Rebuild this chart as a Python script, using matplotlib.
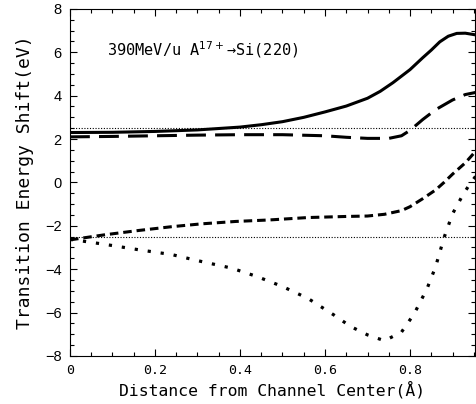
import matplotlib
matplotlib.use("Agg")
import matplotlib.pyplot as plt
from matplotlib.ticker import MultipleLocator

# solid curve
x_solid = [0, 0.1, 0.2, 0.3, 0.4, 0.45, 0.5, 0.55, 0.6, 0.65, 0.7, 0.73, 0.76, 0.8, 0.83, 0.85, 0.87, 0.89, 0.91, 0.93, 0.955]
y_solid = [2.3, 2.31, 2.35, 2.42, 2.55, 2.66, 2.8, 3.0, 3.25, 3.52, 3.88, 4.2, 4.6, 5.2, 5.75, 6.1, 6.48, 6.74, 6.87, 6.88, 6.8]

# long dashes (upper)
x_long = [0, 0.1, 0.2, 0.3, 0.4, 0.5, 0.6, 0.65, 0.7, 0.75, 0.78, 0.8, 0.83, 0.86, 0.9, 0.93, 0.955]
y_long = [2.1, 2.12, 2.15, 2.18, 2.2, 2.2, 2.15, 2.08, 2.03, 2.03, 2.15, 2.4, 2.9, 3.35, 3.8, 4.05, 4.15]

# short dashes (lower)
x_short = [0, 0.08, 0.16, 0.24, 0.31, 0.39, 0.47, 0.56, 0.65, 0.7, 0.74, 0.78, 0.8, 0.83, 0.86, 0.88, 0.9, 0.93, 0.955]
y_short = [-2.65, -2.42, -2.22, -2.04, -1.91, -1.8, -1.73, -1.62, -1.57, -1.55, -1.47, -1.3, -1.12, -0.75, -0.35, 0.0, 0.38, 0.9, 1.45]

# dotted curve
x_dot = [0, 0.08, 0.16, 0.24, 0.31, 0.38, 0.44, 0.5, 0.56, 0.62, 0.66, 0.7, 0.74, 0.78, 0.81, 0.84, 0.86, 0.88, 0.9, 0.925, 0.94, 0.955]
y_dot = [-2.62, -2.85, -3.1, -3.33, -3.65, -3.95, -4.34, -4.8, -5.35, -6.1, -6.64, -7.03, -7.3, -6.9, -6.05, -4.9, -3.9, -2.55, -1.45, -0.55, -0.1, 0.3]

ref_levels = [2.5, -2.5]

fig = plt.figure(figsize=(4.76, 4.04), dpi=100)
ax = fig.add_axes([0.147, 0.119, 0.851, 0.859])

for lv in ref_levels:
    ax.axhline(lv, color="black", lw=0.8, linestyle=(0, (1, 1.5)))

ax.plot(x_solid, y_solid, color="black", lw=2.2, solid_capstyle="butt")
ax.plot(x_long, y_long, color="black", lw=2.2, dashes=(6.5, 3))
ax.plot(x_short, y_short, color="black", lw=2.2, dashes=(2.8, 1.6))
ax.plot(x_dot, y_dot, color="black", lw=2.3, dashes=(1, 3.1))

ax.set_xlim(0, 0.953)
ax.set_ylim(-8, 8)
ax.xaxis.set_major_locator(MultipleLocator(0.2))
ax.xaxis.set_minor_locator(MultipleLocator(0.05))
ax.yaxis.set_major_locator(MultipleLocator(2))
ax.yaxis.set_minor_locator(MultipleLocator(0.5))
ax.tick_params(which="both", direction="in", top=True, right=True, width=0.8)
ax.tick_params(which="major", length=5)
ax.tick_params(which="minor", length=3)
ax.set_xticks([0, 0.2, 0.4, 0.6, 0.8])
ax.set_xticklabels(["0", "0.2", "0.4", "0.6", "0.8"], family="DejaVu Sans Mono", fontsize=9.5)
ax.set_yticks([-8, -6, -4, -2, 0, 2, 4, 6, 8])
ax.set_yticklabels(["\u22128", "\u22126", "\u22124", "\u22122", "0", "2", "4", "6", "8"],
                   family="Liberation Sans", fontsize=10.5)
ax.tick_params(axis="x", pad=6)
ax.tick_params(axis="y", pad=6)
for s in ax.spines.values():
    s.set_linewidth(0.8)

ax.set_xlabel("Distance from Channel Center(\u00c5)", family="DejaVu Sans Mono", fontsize=11.8, labelpad=3)
ax.set_ylabel("Transition Energy Shift(eV)", family="DejaVu Sans Mono", fontsize=13, labelpad=8)

ax.text(0.088, 6.1, "390MeV/u A$^{17+}$\u2192Si(220)", family="DejaVu Sans Mono", fontsize=11, va="center")

fig.savefig("out.png", dpi=100)
